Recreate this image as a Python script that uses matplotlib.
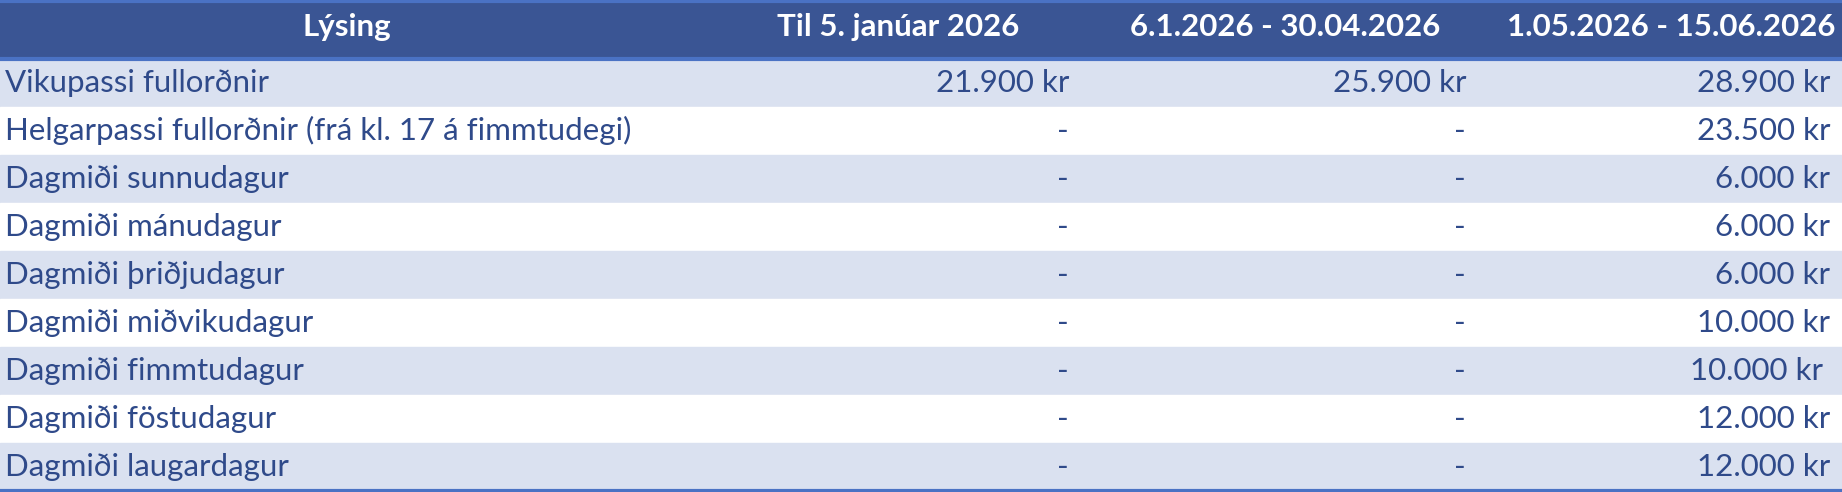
import matplotlib
matplotlib.use("Agg")
import matplotlib.pyplot as plt
from matplotlib.patches import Rectangle

headers = ["Lýsing", "Til 5. janúar 2026", "6.1.2026 - 30.04.2026", "1.05.2026 - 15.06.2026"]
labels = ["Vikupassi fullorðnir", "Helgarpassi fullorðnir (frá kl. 17 á fimmtudegi)",
          "Dagmiði sunnudagur", "Dagmiði mánudagur", "Dagmiði þriðjudagur",
          "Dagmiði miðvikudagur", "Dagmiði fimmtudagur", "Dagmiði föstudagur",
          "Dagmiði laugardagur"]
col1 = ["21.900 kr", "-", "-", "-", "-", "-", "-", "-", "-"]
col2 = ["25.900 kr", "-", "-", "-", "-", "-", "-", "-", "-"]
col3 = ["28.900 kr", "23.500 kr", "6.000 kr", "6.000 kr", "6.000 kr",
        "10.000 kr", "10.000 kr", "12.000 kr", "12.000 kr"]

W, H = 1842, 492
fig = plt.figure(figsize=(W/100, H/100), dpi=100)
ax = fig.add_axes([0, 0, 1, 1])
ax.set_xlim(0, 1568); ax.set_ylim(420, 0); ax.axis("off")

hdr = "#3A5594"; stripe = "#DAE1F0"; txt = "#2F4A8A"; line = "#4A72C4"
font = "Lato"; fs = 22.5
head_h = 50; row_h = 41.0
ax.add_patch(Rectangle((0, 0), 1568, head_h, color=hdr))
n = len(labels)
for i in range(n):
    y0 = head_h + i * row_h
    ax.add_patch(Rectangle((0, y0), 1568, row_h, color=stripe if i % 2 == 0 else "white"))
ax.plot([0, 1568], [1, 1], color=line, lw=3)
ax.plot([0, 1568], [head_h, head_h], color=line, lw=3)
ax.plot([0, 1568], [head_h + n*row_h, head_h + n*row_h], color=line, lw=3)

hy = head_h / 2 - 2
ax.text(295, hy, headers[0], ha="center", va="center", color="white", fontsize=fs, fontweight="bold", family=font)
ax.text(868, hy, headers[1], ha="right", va="center", color="white", fontsize=fs, fontweight="bold", family=font)
ax.text(1226, hy, headers[2], ha="right", va="center", color="white", fontsize=fs, fontweight="bold", family=font)
ax.text(1562, hy, headers[3], ha="right", va="center", color="white", fontsize=fs, fontweight="bold", family=font)

for i in range(n):
    yc = head_h + i * row_h + row_h / 2
    ax.text(4, yc, labels[i], ha="left", va="center", color=txt, fontsize=fs, family=font)
    for x, vals in ((910, col1), (1248, col2), (1558, col3)):
        v = vals[i]
        if v == "-":
            ax.text(x - 5, yc, v, ha="center", va="center", color=txt, fontsize=fs, family=font)
        else:
            xr = x - 6 if (vals is col3 and i == 6) else x
            ax.text(xr, yc, v, ha="right", va="center", color=txt, fontsize=fs, family=font)

fig.savefig("out.png", dpi=100)
